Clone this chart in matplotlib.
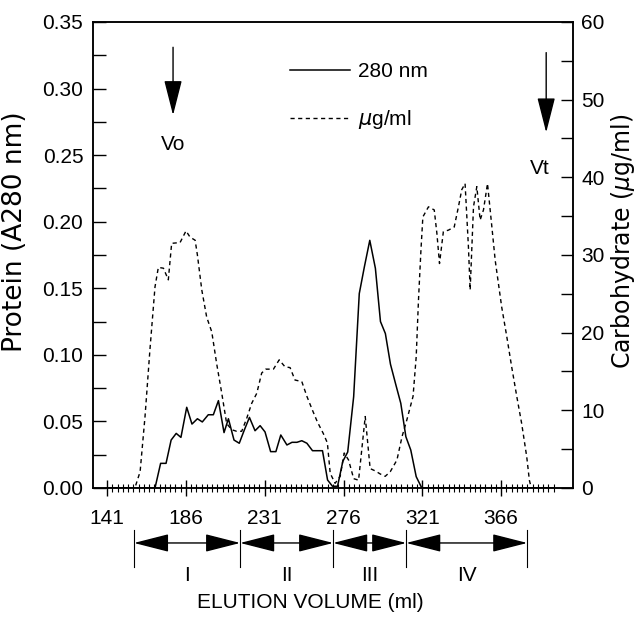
import numpy as np
import matplotlib
matplotlib.use('Agg')
import matplotlib.pyplot as plt

plt.rcParams['font.family'] = ['Liberation Sans', 'DejaVu Sans']

# protein, A280 (left axis)
protein_ml = [141, 168.4, 171.6, 174.7, 177.6, 180.5, 183.2, 186.5, 189.5, 192.6, 195.4,
              198.8, 201.7, 204.6, 207.8, 210.3, 213.5, 216.5, 219.4, 222.3, 225.5,
              228.4, 231.2, 234.4, 237.4, 240.2, 243.7, 246.6, 249.4, 252.2, 255.1,
              258.3, 264.0, 266.9, 269.7, 272.6, 275.6, 278.4, 281.8, 285.0, 287.9,
              291.0, 294.2, 297.1, 299.9, 302.8, 305.9, 308.7, 311.6, 314.4, 317.5,
              320.7, 396]
protein_a280 = [0, 0, 0.0185, 0.0185, 0.036, 0.041, 0.038, 0.0606, 0.048, 0.052, 0.0496,
                0.055, 0.055, 0.0656, 0.0416, 0.052, 0.036, 0.0336, 0.0436, 0.053, 0.043,
                0.0468, 0.0421, 0.0273, 0.0273, 0.0398, 0.0323, 0.0343, 0.0343, 0.0355, 0.0336,
                0.028, 0.028, 0.006, 0.0013, 0.0013, 0.02, 0.027, 0.0686, 0.146, 0.166,
                0.186, 0.165, 0.125, 0.116, 0.093, 0.0774, 0.0636, 0.0385, 0.0285, 0.0085,
                0, 0]

# carbohydrate, ug/ml (right axis)
carb_ml = [141, 156.9, 159.9, 162.7, 165.5, 168.4, 170.3, 173.2, 176.0, 177.9, 182.7,
           186.1, 188.4, 191.3, 192.6, 195.1, 197.9, 200.8, 203.6, 206.5, 209.3,
           212.2, 215.0, 217.9, 220.8, 223.6, 226.5, 229.3, 231.6, 236.0, 239.3,
           242.6, 245.5, 248.3, 252.2, 255.1, 258.3, 261.1, 264.5, 266.8, 268.4,
           271.2, 274.1, 276.4, 278.9, 281.8, 284.6, 288.4, 291.2, 294.1, 297.0,
           299.8, 302.7, 306.5, 309.4, 312.2, 315.7, 317.5, 318.8, 320.2, 321.3,
           324.5, 327.8, 329.3, 330.8, 333.0, 335.9, 339.2, 341.6, 343.5, 345.4,
           347.3, 348.3, 350.2, 352.1, 354.0, 355.9, 358.2, 360.7, 362.6, 366.3,
           369.2, 372.0, 374.9, 377.7, 380.6, 382.1, 383.2, 396]
carb_ugml = [0, 0, 2.1, 9.2, 17.8, 25.9, 28.4, 28.3, 26.8, 31.5, 31.6,
             33.1, 32.3, 31.9, 30.0, 25.5, 22, 20.1, 16, 12.2, 8.3,
             7.5, 7.3, 7.3, 9, 10.9, 12.2, 14.8, 15.3, 15.3, 16.5,
             15.6, 15.5, 13.9, 13.7, 11.8, 10, 8.5, 7, 5.8, 1.9,
             0.6, 1.5, 4.5, 3.6, 1.2, 1.0, 9.2, 2.5, 2.2, 1.8,
             1.5, 2.1, 3.6, 6.6, 8.8, 11.8, 16.9, 24.2, 30.6, 34.9,
             36.2, 35.8, 32.8, 28.9, 33, 33.2, 33.6, 36.2, 38.4, 39.2,
             31.1, 25.5, 36.2, 38.8, 34.5, 35.8, 39.2, 33.6, 29.3, 23.3,
             19.5, 15.6, 11.8, 8.3, 4.0, 1.0, 0, 0]

x_ticks = [141, 186, 231, 276, 321, 366]
fraction_edges = [156.4, 217.0, 270.1, 311.8, 380.9]
fraction_names = ['I', 'II', 'III', 'IV']
vo_ml, vt_ml = 178.7, 391.7

fig = plt.figure(figsize=(6.4, 6.21), dpi=100)
ax = fig.add_axes([0.1453, 0.2142, 0.75, 0.7504])
ax2 = ax.twinx()

l1, = ax.plot(protein_ml, protein_a280, color='black', lw=1.1, label='280 nm')
l2, = ax2.plot(carb_ml, carb_ugml, color='black', lw=1.0, ls=(0, (3, 2.5)),
               label=r'$\mu$g/ml')

ax.set_xlim(133, 407)
ax.set_ylim(0, 0.35)
ax2.set_ylim(0, 60)

ax.set_xticks(x_ticks)
ax.set_xticks(np.arange(141, 397, 3), minor=True)
ax.set_yticks(np.arange(0, 0.351, 0.05))
ax.set_yticks(np.arange(0.025, 0.35, 0.05), minor=True)
ax.set_yticklabels(['%.2f' % v for v in np.arange(0, 0.351, 0.05)])
ax2.set_yticks(np.arange(0, 61, 10))
ax2.set_yticks(np.arange(5, 60, 10), minor=True)

ax.tick_params(axis='x', which='major', direction='inout', length=12, width=1,
               pad=9, labelsize=15)
ax.tick_params(axis='x', which='minor', direction='inout', length=6, width=0.8)
ax.tick_params(axis='y', which='both', direction='in', length=9, width=1,
               pad=7, labelsize=15)
ax2.tick_params(axis='y', which='both', direction='in', length=9, width=1,
                pad=6, labelsize=15)
for a in (ax, ax2):
    for s in a.spines.values():
        s.set_linewidth(1.1)

ax.set_ylabel('Protein (A280 nm)', family='DejaVu Sans', fontsize=19)
ax.yaxis.set_label_coords(-0.135, 0.55)
ax2.set_ylabel(r'Carbohydrate ($\mu$g/ml)', family='DejaVu Sans', fontsize=17)
ax2.yaxis.set_label_coords(1.075, 0.53)

ax2.legend(handles=[l1, l2], loc='upper left', bbox_to_anchor=(0.453, 0.90),
           bbox_transform=fig.transFigure, frameon=False, fontsize=15,
           handlelength=2.9, handletextpad=0.35, labelspacing=1.3,
           borderpad=0, borderaxespad=0)

# Vo / Vt markers
head = dict(arrowstyle='-|>,head_length=1.1,head_width=0.28', mutation_scale=20,
            color='black', lw=1, shrinkA=0, shrinkB=0)
ax.annotate('', xy=(vo_ml, 0.280), xytext=(vo_ml, 0.331), arrowprops=head)
ax.annotate('', xy=(vt_ml, 0.267), xytext=(vt_ml, 0.327), arrowprops=head)
ax.text(vo_ml, 0.258, 'Vo', ha='center', va='center', fontsize=15)
ax.text(vt_ml - 3.5, 0.240, 'Vt', ha='center', va='center', fontsize=15)

# fraction pools below the axis
trans = ax.get_xaxis_transform()
dbl = dict(arrowstyle='<|-|>,head_length=1.1,head_width=0.28', mutation_scale=20,
           color='black', lw=1, shrinkA=0, shrinkB=0)
for x in fraction_edges:
    ax.plot([x, x], [-0.09, -0.17], transform=trans, color='black', lw=0.8,
            clip_on=False)
for i, name in enumerate(fraction_names):
    x0, x1 = fraction_edges[i], fraction_edges[i + 1]
    ax.annotate('', xy=(x1, -0.118), xytext=(x0, -0.118), xycoords=trans,
                textcoords=trans, arrowprops=dbl, annotation_clip=False)
    ax.text((x0 + x1) / 2, -0.187, name, transform=trans, ha='center',
            va='center', fontsize=15)

fig.text(310 / 640, (621 - 603) / 621, 'ELUTION VOLUME (ml)', ha='center',
         va='center', fontsize=15)

fig.savefig('out.png', dpi=100)
